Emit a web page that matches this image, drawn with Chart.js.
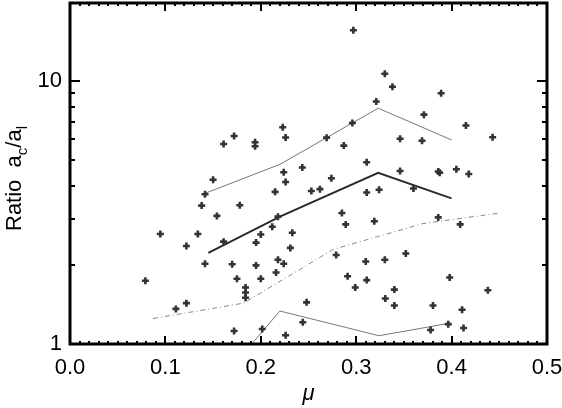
<!DOCTYPE html>
<html>
<head>
<meta charset="utf-8">
<script src="https://cdn.jsdelivr.net/npm/chart.js@4"></script>
<style>
  html, body { margin: 0; padding: 0; background: #fff; }
  canvas { display: block; }
</style>
</head>
<body>
<canvas id="chart" width="562" height="408"></canvas>
<script>
// scatter points: mu and ratio a_c/a_l
const muPts = [
  0.297, 0.330, 0.338, 0.389, 0.321, 0.371, 0.296, 0.415, 0.223, 0.172,
  0.226, 0.269, 0.346, 0.369, 0.443, 0.161, 0.194, 0.194, 0.287, 0.311,
  0.2435, 0.224, 0.346, 0.386, 0.3875, 0.405, 0.418, 0.274, 0.226, 0.150,
  0.215, 0.253, 0.262, 0.311, 0.324, 0.360, 0.1415, 0.138, 0.178, 0.154,
  0.218, 0.285, 0.386, 0.289, 0.319, 0.409, 0.212, 0.0947, 0.134, 0.200,
  0.233, 0.122, 0.161, 0.195, 0.231, 0.279, 0.352, 0.218, 0.224, 0.1415,
  0.170, 0.195, 0.310, 0.330, 0.216, 0.175, 0.200, 0.079, 0.291, 0.311,
  0.398, 0.184, 0.184, 0.184, 0.299, 0.340, 0.438, 0.3305, 0.248, 0.122,
  0.111, 0.340, 0.3805, 0.411, 0.244, 0.172, 0.2015, 0.226, 0.378, 0.3965, 0.4125
];
const ratioPts = [
  15.6, 10.66, 9.51, 8.98, 8.36, 7.45, 6.92, 6.77, 6.67, 6.18,
  6.10, 6.09, 6.03, 5.93, 6.11, 5.76, 5.85, 5.65, 5.68, 4.91,
  4.69, 4.50, 4.55, 4.53, 4.48, 4.62, 4.43, 4.27, 4.13, 4.21,
  3.79, 3.82, 3.88, 3.77, 3.86, 3.90, 3.71, 3.36, 3.37, 3.07,
  3.05, 3.15, 3.03, 2.85, 2.93, 2.85, 2.79, 2.62, 2.62, 2.61,
  2.65, 2.36, 2.45, 2.43, 2.32, 2.18, 2.21, 2.09, 2.02, 2.02,
  2.01, 1.99, 2.06, 2.09, 1.87, 1.77, 1.77, 1.74, 1.81, 1.75,
  1.79, 1.64, 1.57, 1.50, 1.64, 1.61, 1.60, 1.49, 1.44, 1.43,
  1.36, 1.40, 1.40, 1.35, 1.21, 1.12, 1.14, 1.08, 1.13, 1.19, 1.15
];

// binned curves
const upperMu = [0.1415, 0.220, 0.323, 0.400];
const upperRatio = [3.74, 4.82, 7.88, 5.97];
const medianMu = [0.145, 0.220, 0.323, 0.400];
const medianRatio = [2.22, 3.05, 4.48, 3.58];
const lowerMu = [0.1415, 0.220, 0.324, 0.398];
const lowerRatio = [0.62, 1.335, 1.075, 1.20];
const dashMu = [0.087, 0.182, 0.276, 0.370, 0.451];
const dashRatio = [1.25, 1.43, 2.29, 2.87, 3.15];

// axes
const xTickLabels = ['0.0', '0.1', '0.2', '0.3', '0.4', '0.5'];
const yMajorTicks = [1, 10];
const yMinorTicks = [2, 3, 4, 5, 6, 7, 8, 9, 20];

const FONT = "'Liberation Sans', Arial, sans-serif";

function pairs(xs, ys) {
  return xs.map((v, i) => ({ x: v, y: ys[i] }));
}

function lineSet(xs, ys, color, width, dash) {
  return {
    data: pairs(xs, ys),
    showLine: true,
    borderColor: color,
    borderWidth: width,
    borderDash: dash || [],
    pointRadius: 0,
    fill: false,
    order: 2
  };
}

// box with inward ticks on all four sides, plus y title with subscripts
const framePlugin = {
  id: 'frame',
  afterDraw(chart) {
    const ctx = chart.ctx;
    const { left, right, top, bottom } = chart.chartArea;
    const x = chart.scales.x, y = chart.scales.y;
    ctx.save();
    ctx.strokeStyle = '#000';
    ctx.lineWidth = 2;
    ctx.beginPath();
    for (let i = 0; i <= 50; i++) {
      const px = Math.round(x.getPixelForValue(i / 100));
      const len = i % 10 === 0 ? 8 : 3;
      ctx.moveTo(px, bottom); ctx.lineTo(px, bottom - len);
      ctx.moveTo(px, top); ctx.lineTo(px, top + len);
    }
    yMajorTicks.concat(yMinorTicks).forEach(v => {
      const py = Math.round(y.getPixelForValue(v));
      if (py < top || py > bottom) return;
      const len = yMajorTicks.includes(v) ? 10 : 5;
      ctx.moveTo(left, py); ctx.lineTo(left + len, py);
      ctx.moveTo(right, py); ctx.lineTo(right - len, py);
    });
    ctx.stroke();
    ctx.lineWidth = 3;
    ctx.strokeRect(left, top, right - left, bottom - top);

    // y title: Ratio a_c / a_l
    const parts = [
      { t: 'Ratio  a', size: 22, dy: 0 },
      { t: 'c', size: 15, dy: 6 },
      { t: '/a', size: 22, dy: 0 },
      { t: 'l', size: 15, dy: 6 }
    ];
    let total = 0;
    parts.forEach(p => { ctx.font = p.size + 'px ' + FONT; p.w = ctx.measureText(p.t).width; total += p.w; });
    ctx.translate(21, (top + bottom) / 2 + 5);
    ctx.rotate(-Math.PI / 2);
    ctx.fillStyle = '#000';
    ctx.textBaseline = 'alphabetic';
    let cx = -total / 2;
    parts.forEach(p => {
      ctx.font = p.size + 'px ' + FONT;
      ctx.fillText(p.t, cx, p.dy);
      cx += p.w;
    });
    ctx.restore();
  }
};

new Chart(document.getElementById('chart'), {
  type: 'scatter',
  data: {
    datasets: [
      {
        data: pairs(muPts, ratioPts),
        pointStyle: 'cross',
        pointRadius: 3.5,
        pointBorderWidth: 2.6,
        borderColor: '#333',
        backgroundColor: '#333',
        order: 1
      },
      lineSet(upperMu, upperRatio, '#777', 1),
      lineSet(medianMu, medianRatio, '#2a2a2a', 2),
      lineSet(lowerMu, lowerRatio, '#777', 1),
      lineSet(dashMu, dashRatio, '#888', 1, [5, 3, 1, 3])
    ]
  },
  options: {
    responsive: false,
    animation: false,
    layout: { autoPadding: false, padding: { top: 3, right: 15, left: 0, bottom: 0 } },
    plugins: { legend: { display: false }, tooltip: { enabled: false } },
    scales: {
      x: {
        type: 'linear',
        min: 0,
        max: 0.5,
        grid: { display: false, drawTicks: false },
        border: { display: false },
        ticks: {
          stepSize: 0.1,
          padding: 11,
          color: '#000',
          font: { family: FONT, size: 22 },
          maxRotation: 0,
          callback: (v) => xTickLabels[Math.round(v * 10)]
        },
        title: {
          display: true,
          text: 'μ',
          color: '#000',
          padding: { top: 0, bottom: 1 },
          font: { family: FONT, size: 22, style: 'italic' }
        },
        afterFit(scale) {
          scale.height = 64;
          scale.paddingLeft = 0;
          scale.paddingRight = 0;
        }
      },
      y: {
        type: 'logarithmic',
        min: 1,
        max: 19.8,
        grid: { display: false, drawTicks: false },
        border: { display: false },
        ticks: {
          autoSkip: false,
          padding: 8,
          color: '#000',
          font: { family: FONT, size: 22 },
          callback: (v) => yMajorTicks.includes(v) ? String(v) : ''
        },
        afterFit(scale) {
          scale.width = 70;
          scale.paddingTop = 0;
          scale.paddingBottom = 0;
        }
      }
    }
  },
  plugins: [framePlugin]
});
</script>
</body>
</html>
